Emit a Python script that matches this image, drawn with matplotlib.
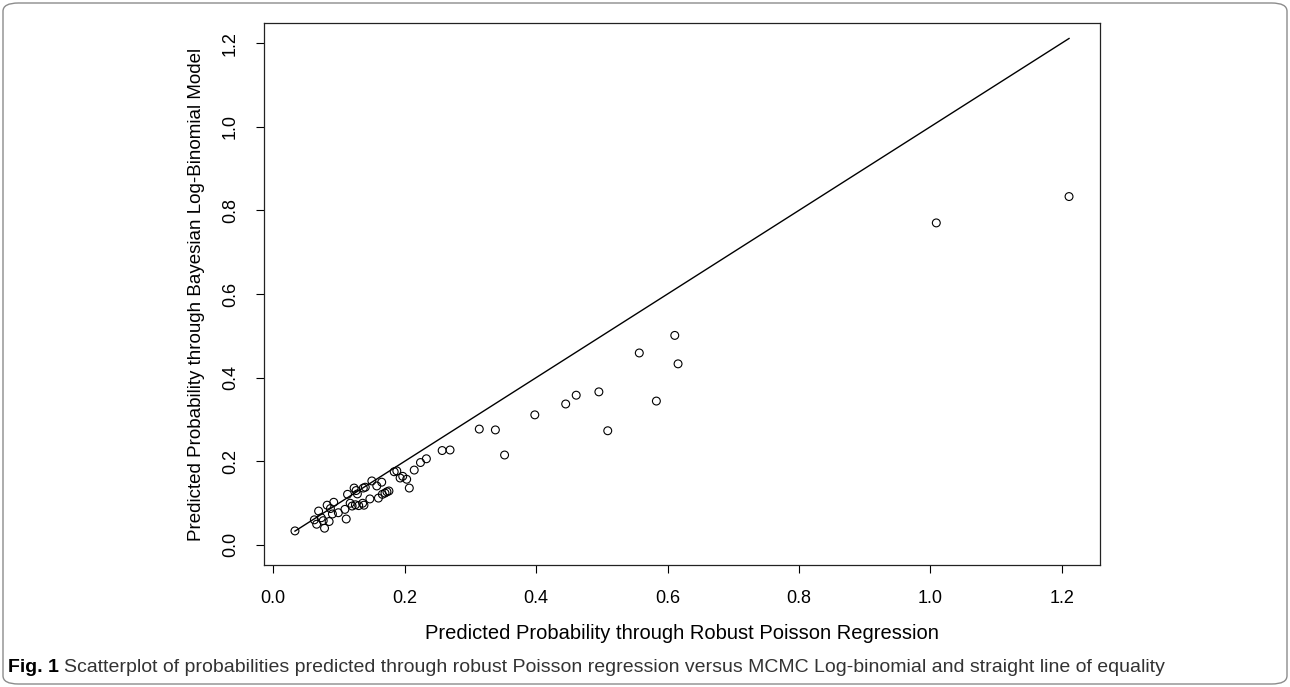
import matplotlib.pyplot as plt
from matplotlib.patches import FancyBboxPatch

# values
robust_poisson = [
    0.033, 0.0625, 0.069, 0.066, 0.073, 0.078, 0.085, 0.076, 0.082, 0.092,
    0.090, 0.099, 0.087, 0.111, 0.109, 0.113, 0.117, 0.120, 0.123, 0.126,
    0.128, 0.125, 0.130, 0.137, 0.140, 0.136, 0.138, 0.147, 0.150, 0.1575,
    0.165, 0.160, 0.166, 0.170, 0.173, 0.176, 0.184, 0.188, 0.193, 0.197,
    0.203, 0.207, 0.2145, 0.224, 0.233, 0.257, 0.269,
    0.3135, 0.338, 0.352, 0.398, 0.445, 0.461, 0.4955, 0.509, 0.557, 0.583,
    0.611, 0.616, 1.009, 1.211,
]
bayes_log_binomial = [
    0.0335, 0.060, 0.081, 0.0495, 0.065, 0.040, 0.056, 0.058, 0.095, 0.102,
    0.074, 0.077, 0.087, 0.062, 0.085, 0.121, 0.0997, 0.093, 0.136, 0.130,
    0.122, 0.096, 0.094, 0.136, 0.138, 0.0997, 0.095, 0.110, 0.153, 0.141,
    0.150, 0.112, 0.121, 0.124, 0.127, 0.129, 0.175, 0.177, 0.160, 0.164,
    0.157, 0.136, 0.179, 0.197, 0.206, 0.2257, 0.227,
    0.277, 0.275, 0.215, 0.311, 0.337, 0.358, 0.366, 0.273, 0.459, 0.344,
    0.501, 0.433, 0.770, 0.833,
]
ticks = [0.0, 0.2, 0.4, 0.6, 0.8, 1.0, 1.2]
x_label = "Predicted Probability through Robust Poisson Regression"
y_label = "Predicted Probability through Bayesian Log-Binomial Model"
caption_bold = "Fig. 1"
caption_text = ("Scatterplot of probabilities predicted through robust Poisson regression "
                "versus MCMC Log-binomial and straight line of equality")

W, H = 1290, 687
fig = plt.figure(figsize=(W / 100, H / 100), dpi=100)
plt.rcParams["font.family"] = ["Liberation Sans", "DejaVu Sans"]

# axes box in pixels: left 264, right 1100, top 23, bottom 565
ax = fig.add_axes([264 / W, 1 - 565 / H, 836 / W, 542 / H])

lo, hi = min(robust_poisson), max(robust_poisson)
ax.plot([lo, hi], [lo, hi], color="black", lw=1.0)
ax.scatter(robust_poisson, bayes_log_binomial, s=32, facecolors="none",
           edgecolors="black", linewidths=0.8, zorder=3)

pad = 0.04 * (hi - lo)
ax.set_xlim(lo - pad, hi + pad)
ax.set_ylim(-0.048, 1.248)
ax.set_xticks(ticks)
ax.set_yticks(ticks)
ax.set_xticklabels([f"{t:.1f}" for t in ticks])
ax.set_yticklabels([f"{t:.1f}" for t in ticks], rotation=90, va="center")
ax.tick_params(direction="out", length=6, width=0.8, labelsize=13, pad=12)
for s in ax.spines.values():
    s.set_linewidth(0.9)
    s.set_color("#222222")

ax.set_xlabel(x_label, fontsize=14.5, labelpad=12)
ax.set_ylabel(y_label, fontsize=13.5, labelpad=12)

# caption and rounded frame
fig.text(8 / W, 1 - 668 / H, caption_bold, fontsize=14, fontweight="bold",
         va="center", ha="left", family=["Liberation Sans Narrow", "Liberation Sans"])
fig.text(64 / W, 1 - 668 / H, caption_text, fontsize=14, color="#333333",
         va="center", ha="left", family=["Liberation Sans Narrow", "Liberation Sans"])

frame = FancyBboxPatch((3 / W, 3 / H), 1284 / W, 681 / H,
                       boxstyle="round,pad=0,rounding_size=0.012",
                       transform=fig.transFigure, fill=False,
                       edgecolor="#8c8c8c", linewidth=1.0)
fig.patches.append(frame)

fig.savefig("out.png", dpi=100)
